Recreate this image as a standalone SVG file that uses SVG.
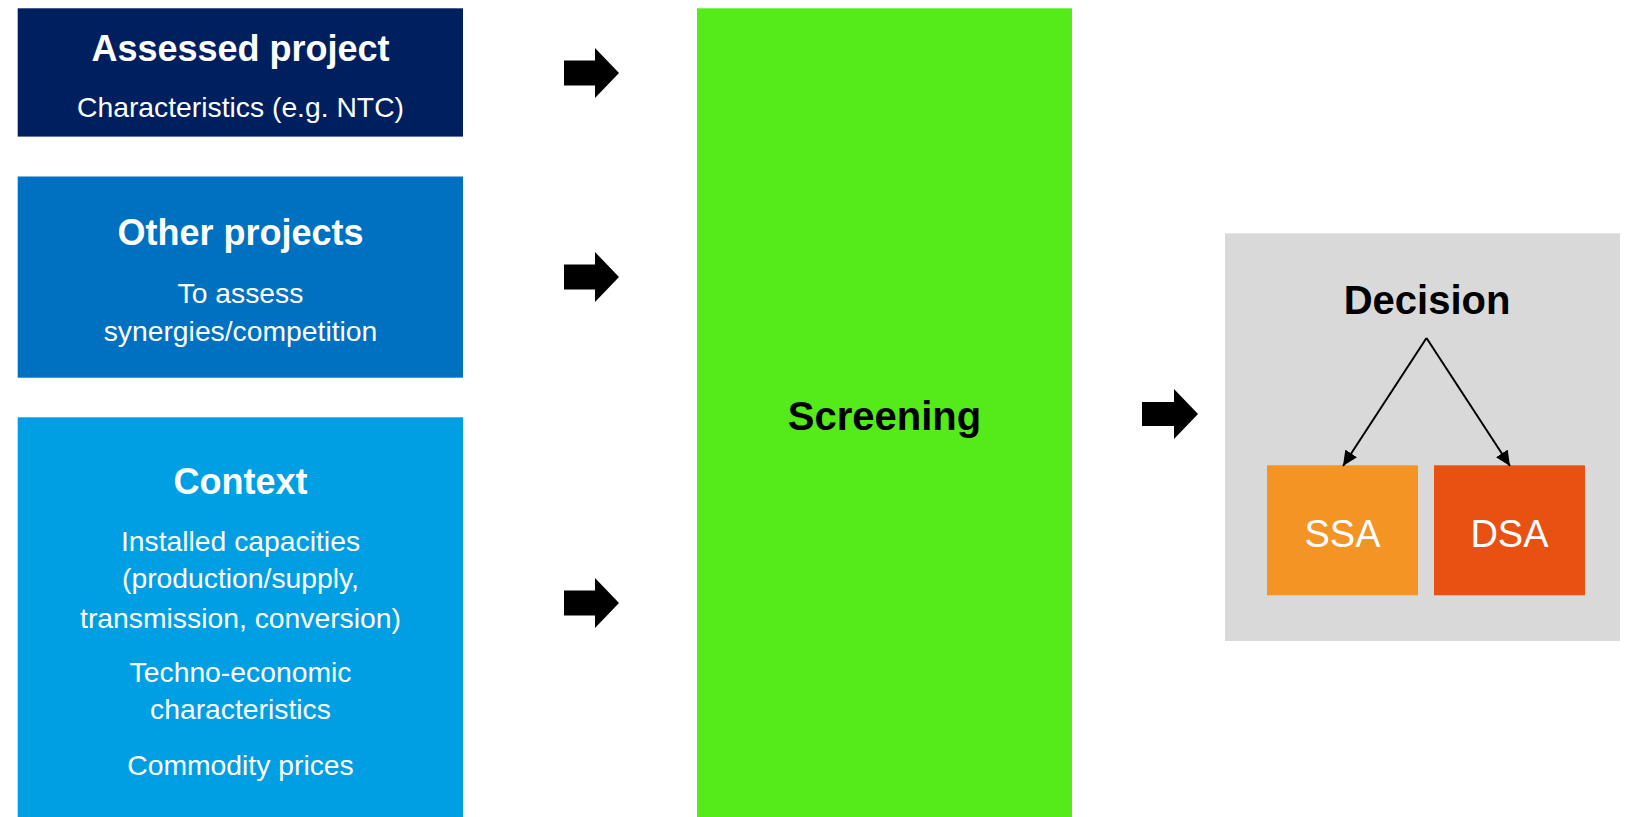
<svg xmlns="http://www.w3.org/2000/svg" width="1635" height="817" viewBox="0 0 1635 817">
  <style>
    .title { font-family: "Liberation Sans", Arial, sans-serif; font-weight: bold; font-size: 36px; fill: #FFFFFF; text-anchor: middle; }
    .body { font-family: "Liberation Sans", Arial, sans-serif; font-size: 28.3px; fill: #FFFFFF; text-anchor: middle; }
    .dark { font-family: "Liberation Sans", Arial, sans-serif; font-weight: bold; font-size: 40px; fill: #000000; text-anchor: middle; }
    .box { font-family: "Liberation Sans", Arial, sans-serif; font-size: 38px; fill: #FFFFFF; text-anchor: middle; }
    .block { fill: #000000; }
    .thin { stroke: #000000; stroke-width: 2; fill: none; }
  </style>
  <defs>
    <marker id="tip" markerUnits="userSpaceOnUse" markerWidth="16" markerHeight="14" refX="15" refY="7" orient="auto">
      <path d="M0,0 L15,7 L0,14 Z" fill="#000000"/>
    </marker>
  </defs>
  <rect width="1635" height="817" fill="#FFFFFF"/>

  <g id="assessed-project">
    <rect x="17.7" y="8.3" width="445.3" height="128.3" fill="#001F5F"/>
    <text class="title" x="240.5" y="60.5">Assessed project</text>
    <text class="body" x="240.5" y="117.3">Characteristics (e.g. NTC)</text>
  </g>

  <g id="other-projects">
    <rect x="17.7" y="176.5" width="445.3" height="201.2" fill="#0070C0"/>
    <text class="title" x="240.5" y="245">Other projects</text>
    <text class="body" x="240.5" y="303.3">To assess</text>
    <text class="body" x="240.5" y="340.7">synergies/competition</text>
  </g>

  <g id="context">
    <rect x="17.7" y="417.3" width="445.3" height="399.7" fill="#009FE3"/>
    <text class="title" x="240.5" y="494">Context</text>
    <text class="body" x="240.5" y="550.7">Installed capacities</text>
    <text class="body" x="240.5" y="588.3">(production/supply,</text>
    <text class="body" x="240.5" y="627.7">transmission, conversion)</text>
    <text class="body" x="240.5" y="681.7">Techno-economic</text>
    <text class="body" x="240.5" y="719.3">characteristics</text>
    <text class="body" x="240.5" y="775">Commodity prices</text>
  </g>

  <g id="screening">
    <rect x="697" y="8.3" width="375" height="808.7" fill="#55EA1A"/>
    <text class="dark" x="884.5" y="430">Screening</text>
  </g>

  <g id="decision">
    <rect x="1225" y="233.3" width="395" height="407.7" fill="#D9D9D9"/>
    <text class="dark" x="1427" y="314.3">Decision</text>
  </g>

  <g id="ssa">
    <rect x="1267" y="465.3" width="151" height="130" fill="#F39425"/>
    <text class="box" x="1342.5" y="546.7">SSA</text>
  </g>

  <g id="dsa">
    <rect x="1434" y="465.3" width="151" height="130" fill="#E85112"/>
    <text class="box" x="1509.5" y="546.7">DSA</text>
  </g>

  <g id="connectors">
    <path class="block" d="M564,60.5 H595 V48 L619,73 L595,98 V85.5 H564 Z"/>
    <path class="block" d="M564,264.5 H595 V252 L619,277 L595,302 V289.5 H564 Z"/>
    <path class="block" d="M564,590.5 H595 V578 L619,603 L595,628 V615.5 H564 Z"/>
    <path class="block" d="M1142,402 H1174 V389 L1198,414 L1174,439 V426 H1142 Z"/>
    <line class="thin" x1="1426.5" y1="338" x2="1343" y2="466" marker-end="url(#tip)"/>
    <line class="thin" x1="1426.5" y1="338" x2="1510" y2="466" marker-end="url(#tip)"/>
  </g>
</svg>
